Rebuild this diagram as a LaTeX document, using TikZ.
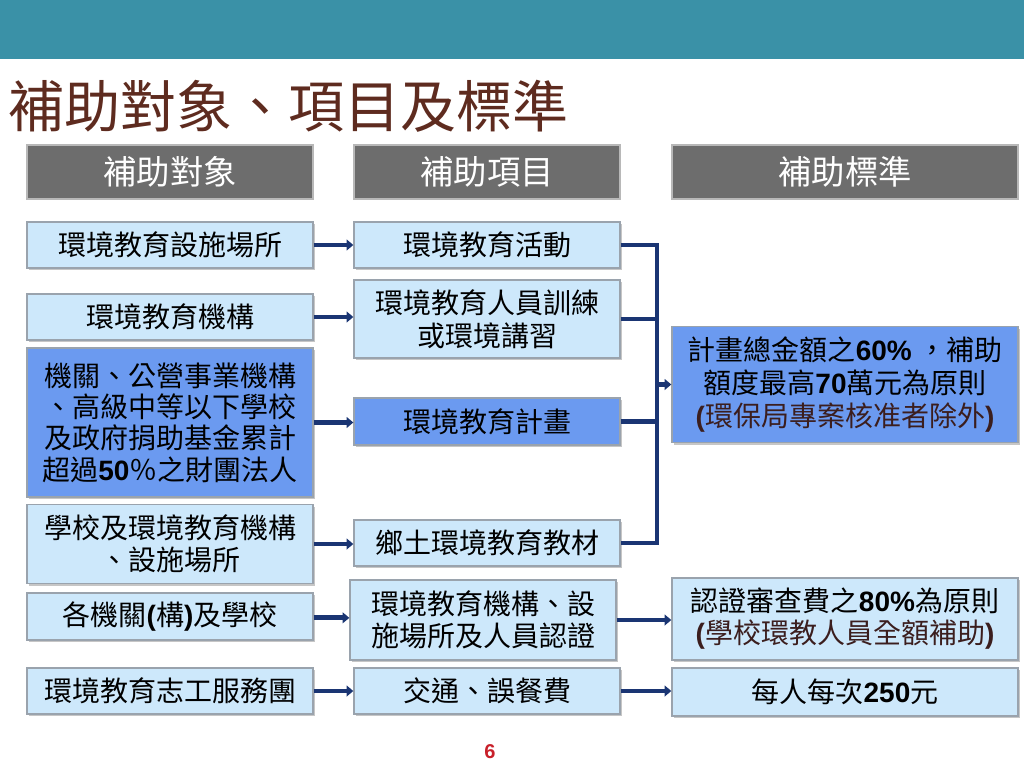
\documentclass[tikz,border=0pt]{standalone}
\usepackage{fontspec}
\setmainfont{Noto Sans CJK TC}
\newfontfamily\latb{Liberation Sans}
\usetikzlibrary{arrows.meta,shadows}
\definecolor{teal}{HTML}{3A91A7}
\definecolor{titlec}{HTML}{5E2B1F}
\definecolor{hdrfill}{HTML}{6D6D6D}
\definecolor{hdrline}{HTML}{B8B8B8}
\definecolor{lblue}{HTML}{CDE8FB}
\definecolor{mblue}{HTML}{6B9AF0}
\definecolor{navy}{HTML}{1A3573}
\definecolor{maroon}{HTML}{3B1E1E}
\definecolor{pgred}{HTML}{C8202A}
\definecolor{boxline}{HTML}{9AA3AD}
\newcommand\bnum[1]{{\latb\bfseries #1}}
\begin{document}
\begin{tikzpicture}[x=0.75pt,y=-0.75pt,
  hdr/.style={draw=hdrline,line width=1.6pt,fill=hdrfill,text=white,inner sep=0pt,
    font=\fontsize{25}{28}\selectfont},
  basebox/.style={draw=boxline,line width=1pt,inner sep=0pt,align=center,
    font=\fontsize{21}{24}\selectfont,
    drop shadow={shadow xshift=1.6pt,shadow yshift=-1.6pt,opacity=0.45,fill=gray}},
  lbox/.style={basebox,fill=lblue},
  bbox/.style={basebox,fill=mblue},
  arr/.style={draw=navy,line width=3.6pt,-{Triangle[length=5pt,width=8pt]}},
  brk/.style={draw=navy,line width=3.6pt,line join=miter}
]
\useasboundingbox (0,0) rectangle (1024,768);
% top bar
\fill[teal] (0,0) rectangle (1024,59);
% title
\node[anchor=west,text=titlec,font=\fontsize{42}{44}\selectfont,inner sep=0pt] (title) at (8,106) {補助對象、項目及標準};
% headers
\node[hdr,minimum width=214.5pt,minimum height=40.5pt] (h1) at (170,172) {補助對象};
\node[hdr,minimum width=199.5pt,minimum height=40.5pt] (h2) at (487,172) {補助項目};
\node[hdr,minimum width=259.5pt,minimum height=40.5pt] (h3) at (845,172) {補助標準};
% column 1
\node[lbox,minimum width=214.5pt,minimum height=34.5pt] (c1a) at (170,245) {環境教育設施場所};
\node[lbox,minimum width=214.5pt,minimum height=34.5pt] (c1b) at (170,317) {環境教育機構};
\node[bbox,minimum width=214.5pt,minimum height=111.75pt,font=\fontsize{21}{23.5}\selectfont] (c1c) at (170,422.5) {機關、公營事業機構\\、高級中等以下學校\\及政府捐助基金累計\\超過\bnum{50}％之財團法人};
\node[lbox,minimum width=214.5pt,minimum height=59.25pt] (c1d) at (170,544) {學校及環境教育機構\\、設施場所};
\node[lbox,minimum width=214.5pt,minimum height=35.25pt] (c1e) at (170,616.5) {各機關\bnum{(}構\bnum{)}及學校};
\node[lbox,minimum width=214.5pt,minimum height=34.5pt] (c1f) at (170,691) {環境教育志工服務團};
% column 2
\node[lbox,minimum width=199.5pt,minimum height=34.5pt] (c2a) at (487,245) {環境教育活動};
\node[lbox,minimum width=199.5pt,minimum height=58.5pt,font=\fontsize{21}{25}\selectfont] (c2b) at (487,319) {環境教育人員訓練\\或環境講習};
\node[bbox,minimum width=199.5pt,minimum height=35.25pt] (c2c) at (487,421.5) {環境教育計畫};
\node[lbox,minimum width=199.5pt,minimum height=34.5pt] (c2d) at (487,543) {鄉土環境教育教材};
\node[lbox,minimum width=199.5pt,minimum height=60pt] (c2e) at (483,620) {環境教育機構、設\\施場所及人員認證};
\node[lbox,minimum width=199.5pt,minimum height=34.5pt] (c2f) at (487,691) {交通、誤餐費};
% column 3
\node[bbox,minimum width=259.5pt,minimum height=87pt,font=\fontsize{21}{24.5}\selectfont] (c3a) at (845,384.5) {計畫總金額之\bnum{60\%} ，補助\\額度最高\bnum{70}萬元為原則\\{\color{maroon}\bnum{(}環保局專案核准者除外\bnum{)}}};
\node[lbox,minimum width=259.5pt,minimum height=61.5pt] (c3b) at (845,619) {認證審查費之\bnum{80\%}為原則\\{\color{maroon}\bnum{(}學校環教人員全額補助\bnum{)}}};
\node[lbox,minimum width=259.5pt,minimum height=36pt] (c3c) at (845,692) {每人每次\bnum{250}元};
% arrows col1 -> col2
\draw[arr] (c1a.east) -- (c1a.east -| c2a.west);
\draw[arr] (c1b.east) -- (c1b.east -| c2b.west);
\draw[arr] (c1c.east) -- (c1c.east -| c2c.west);
\draw[arr] (c1d.east) -- (c1d.east -| c2d.west);
\draw[arr] ([yshift=-1pt]c1e.east) -- ([yshift=-1pt]c1e.east -| c2e.west);
\draw[arr] (c1f.east) -- (c1f.east -| c2f.west);
% bracket
\coordinate (br) at (657,0);
\draw[brk] (c2a.east) -- (c2a.east -| br) -- (c2d.east -| br) -- (c2d.east);
\draw[brk] (c2b.east) -- (c2b.east -| br);
\draw[brk] (c2c.east) -- (c2c.east -| br);
\draw[arr] (c3a.west -| br) -- (c3a.west);
% arrows col2 -> col3
\draw[arr] (c2e.east) -- (c2e.east -| c3b.west);
\draw[arr] (c2f.east) -- (c2f.east -| c3c.west);
% page number
\node[text=pgred,font=\latb\bfseries\fontsize{15}{17}\selectfont,inner sep=0pt] (pg) at (490,752) {6};
\end{tikzpicture}
\end{document}
